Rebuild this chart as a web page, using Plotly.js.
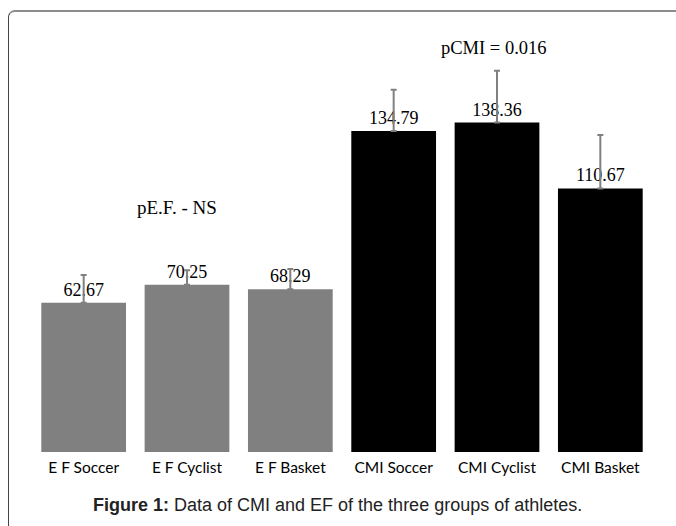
<!DOCTYPE html>
<html><head><meta charset="utf-8">
<script src="https://cdn.plot.ly/plotly-3.0.1.min.js"></script>
<style>
html,body{margin:0;padding:0;background:#fff;}
#wrap{position:relative;width:676px;height:526px;overflow:hidden;}
#frame{position:absolute;left:8px;top:10px;width:700px;height:600px;border-top:2px solid #8c8c8c;border-left:1px solid #444;border-top-left-radius:7px;box-sizing:border-box;pointer-events:none;}
#chart{position:absolute;left:0;top:0;width:676px;height:526px;}
</style></head>
<body><div id="wrap"><div id="chart"></div><div id="frame"></div></div>
<script>
const categories = ["E F Soccer","E F Cyclist","E F Basket","CMI Soccer","CMI Cyclist","CMI Basket"];
const values = [62.67, 70.25, 68.29, 134.79, 138.36, 110.67];
const errors = [11.7, 6.1, 8.6, 17.3, 21.7, 22.4];
const barColors = ["#808080","#808080","#808080","#000000","#000000","#000000"];
const labels = values.map(v => v.toFixed(2));

const trace = {
  type: 'bar', x: categories, y: values,
  marker: {color: barColors},
  text: labels, textposition: 'outside', cliponaxis: false,
  textfont: {family: 'Liberation Serif, Times New Roman, serif', size: 18, color: '#000'},
  error_y: {type: 'data', symmetric: false, array: errors, arrayminus: errors.map(()=>0), color: '#808080', thickness: 2, width: 3},
  hoverinfo: 'none'
};
const layout = {
  width: 676, height: 526,
  margin: {l: 32, r: 24, t: 40, b: 74},
  paper_bgcolor: '#fff', plot_bgcolor: '#fff',
  bargap: 0.18,
  showlegend: false,
  xaxis: {showline: false, showgrid: false, zeroline: false, ticks: '', fixedrange: true,
          ticklabelstandoff: 4,
          tickfont: {family: 'Lato, Open Sans, sans-serif', size: 15.5, color: '#000'}},
  yaxis: {range: [0, 173], visible: false, showgrid: false, zeroline: false, fixedrange: true},
  annotations: [
    {text: 'pE.F. - NS', xref: 'x', yref: 'paper', x: 1, xshift: -10, y: 0, yshift: 232, showarrow: false,
     font: {family: 'Liberation Serif, Times New Roman, serif', size: 19, color: '#000'}},
    {text: 'pCMI = 0.016', xref: 'x', yref: 'paper', x: 4, xshift: -3, y: 0, yshift: 392, showarrow: false,
     font: {family: 'Liberation Serif, Times New Roman, serif', size: 18.5, color: '#000'}},
    {text: '<b>Figure 1:</b> Data of CMI and EF of the three groups of athletes.', xref: 'paper', yref: 'paper',
     x: 0.5, xshift: -5, y: 0, yshift: -65, showarrow: false,
     font: {family: 'Liberation Sans, Arial, sans-serif', size: 18, color: '#222'}}
  ]
};
Plotly.newPlot('chart', [trace], layout, {displayModeBar: false, staticPlot: true});
</script></body></html>
